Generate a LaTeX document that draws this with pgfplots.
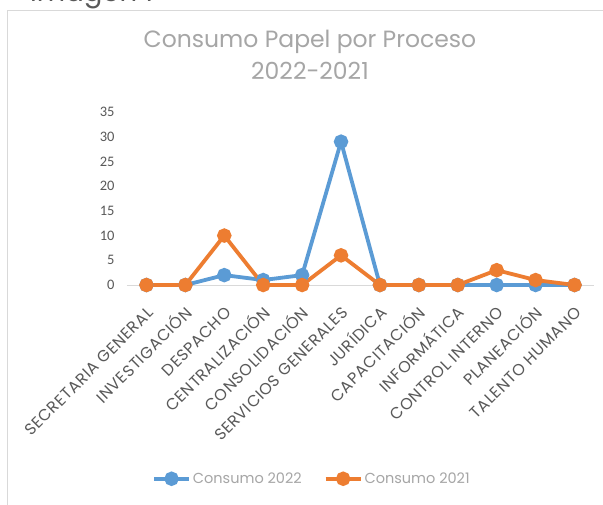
\documentclass[border=0pt]{standalone}
\usepackage{pgfplots}
\pgfplotsset{compat=1.18}
\usepackage{fontspec}
\setmainfont{Poppins}
\newfontfamily\carlito{Carlito}
\newfontfamily\labfont[LetterSpace=4]{Poppins}
\definecolor{cblue}{HTML}{5B9BD5}
\definecolor{corange}{HTML}{ED7D31}
\definecolor{tgray}{HTML}{595959}
\definecolor{lgray}{HTML}{A6A6A6}
\definecolor{bgray}{HTML}{D9D9D9}
\begin{document}
\begin{tikzpicture}
\useasboundingbox (0pt,0pt) rectangle (603pt,504pt);
\fill[white] (0pt,0pt) rectangle (603pt,504pt);
\node[anchor=base west, inner sep=0, text=tgray, font=\fontsize{27.5}{30}\selectfont] at (30pt,502.5pt) {Imagen 1};
\draw[bgray, line width=1pt] (7.5pt,-2pt) -- (7.5pt,493pt) -- (610pt,493pt);
\node[anchor=base, inner sep=0, text=lgray, font=\fontsize{23.5}{26}\selectfont] at (310pt,456pt) {Consumo Papel por Proceso};
\node[anchor=base, inner sep=0, text=lgray, font=\fontsize{23.5}{26}\selectfont] at (310pt,424pt) {2022-2021};
\coordinate (A) at (127pt,219pt);
\begin{axis}[
  at={(A)}, anchor=south west,
  scale only axis, width=467pt, height=173pt,
  xmin=-0.5, xmax=11.5, ymin=0, ymax=35,
  ytick={0,5,...,35},
  xtick={0,...,11},
  xticklabels={SECRETARIA GENERAL,INVESTIGACIÓN,DESPACHO,CENTRALIZACIÓN,CONSOLIDACIÓN,SERVICIOS GENERALES,JURÍDICA,CAPACITACIÓN,INFORMÁTICA,CONTROL INTERNO,PLANEACIÓN,TALENTO HUMANO},
  axis x line=bottom, axis y line=left,
  x axis line style={-, draw=bgray, line width=1pt},
  y axis line style={draw=none},
  major tick length=0pt,
  yticklabel style={font=\carlito\fontsize{14.5}{16}\selectfont, text=tgray, xshift=-9pt},
  /pgf/number format/assume math mode=true,
  xticklabel style={font=\labfont\fontsize{16}{18}\selectfont, text=tgray, xshift=0pt, yshift=-21pt, rotate=45, anchor=north east, inner sep=0pt, text height=11pt, text depth=0pt},
  clip=false,
  legend columns=2,
  legend style={draw=none, at={(0.396,-1.12)}, anchor=center, font=\fontsize{14.5}{16}\selectfont, text=lgray, /tikz/every even column/.append style={column sep=20pt}},
  legend image code/.code={\draw[mark repeat=2,mark phase=2] plot coordinates {(0pt,0pt) (17.5pt,0pt) (35pt,0pt)};},
]
\addplot[cblue, line width=3.8pt, mark=*, mark size=5.3pt, mark options={solid}] coordinates {
(0,0) (1,0) (2,2) (3,1) (4,2) (5,29) (6,0) (7,0) (8,0) (9,0) (10,0) (11,0)};
\addlegendentry{Consumo 2022}
\addplot[corange, line width=3.8pt, mark=*, mark size=5.3pt, mark options={solid}] coordinates {
(0,0) (1,0) (2,10) (3,0) (4,0) (5,6) (6,0) (7,0) (8,0) (9,3) (10,1) (11,0)};
\addlegendentry{Consumo 2021}
\end{axis}
\end{tikzpicture}
\end{document}
